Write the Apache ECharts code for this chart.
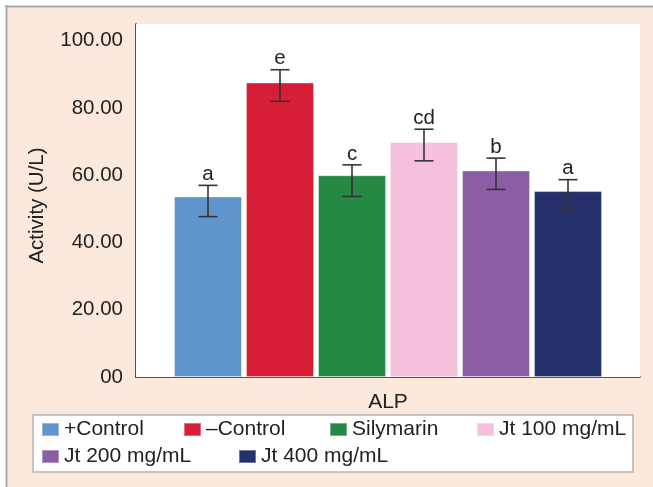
<!DOCTYPE html>
<html>
<head>
<meta charset="utf-8">
<script src="https://cdn.jsdelivr.net/npm/echarts@6/dist/echarts.min.js"></script>
<style>
html,body{margin:0;padding:0;background:#fff;}
#c{width:653px;height:487px;}
</style>
</head>
<body>
<div id="c"></div>
<script>
const categories = ['ALP'];
const groups = ['+Control', '–Control', 'Silymarin', 'Jt 100 mg/mL', 'Jt 200 mg/mL', 'Jt 400 mg/mL'];
const means = [53.7, 87.6, 60.0, 69.9, 61.4, 55.3];
const errLow = [47.7, 82.0, 53.7, 64.3, 55.8, 49.4];
const errHigh = [57.0, 91.4, 63.1, 73.7, 65.1, 58.7];
const letters = ['a', 'e', 'c', 'cd', 'b', 'a'];
const yTicks = [0, 20, 40, 60, 80, 100];
const colors = ['#5f94cd', '#d81e36', '#258843', '#f5c0d9', '#8a5da5', '#25306a'];

const FONT = "'Liberation Sans', Arial, sans-serif";
const BAR_W = 68, BAR_GAP = 4;

const chart = echarts.init(document.getElementById('c'), null, {renderer: 'canvas'});

const barSeries = groups.map((g, i) => ({
  name: g,
  type: 'bar',
  data: [means[i]],
  barWidth: BAR_W,
  barGap: (BAR_GAP / BAR_W * 100).toFixed(2) + '%',
  itemStyle: {color: colors[i], borderColor: 'rgba(255,255,255,0.35)', borderWidth: 1},
  emphasis: {disabled: true}
}));

const errData = groups.map((g, i) => [0, errLow[i], errHigh[i], i]);

const errSeries = {
  type: 'custom',
  z: 5,
  silent: true,
  data: errData,
  encode: {x: 0, y: [1, 2]},
  renderItem: function (params, api) {
    const i = api.value(3);
    const base = api.coord([api.value(0), 0]);
    const x = base[0] + (i - 2.5) * (BAR_W + BAR_GAP);
    const yTop = api.coord([api.value(0), api.value(2)])[1];
    const yBot = api.coord([api.value(0), api.value(1)])[1];
    const half = 9.5;
    const st = {stroke: '#333', lineWidth: 1.6};
    return {
      type: 'group',
      children: [
        {type: 'line', shape: {x1: x, y1: yTop, x2: x, y2: yBot}, style: st},
        {type: 'line', shape: {x1: x - half, y1: yTop, x2: x + half, y2: yTop}, style: st},
        {type: 'line', shape: {x1: x - half, y1: yBot, x2: x + half, y2: yBot}, style: st},
        {type: 'text', style: {text: letters[params.dataIndex], x: x, y: yTop - 11,
          textAlign: 'center', textVerticalAlign: 'middle', fill: '#222', font: '20.5px ' + FONT}}
      ]
    };
  }
};

const legendPos = [
  [41, 419], [183, 419], [329, 419], [476, 419],
  [41, 446], [238, 446]
];
const legends = groups.map((g, i) => ({
  data: [g],
  left: legendPos[i][0],
  top: legendPos[i][1],
  padding: 0,
  icon: 'rect',
  itemWidth: 17,
  itemHeight: 13,
  selectedMode: false,
  textStyle: {fontSize: 21, color: '#222', fontFamily: FONT, padding: [0, 0, 0, 0]}
}));

const option = {
  backgroundColor: '#fff',
  animation: false,
  textStyle: {fontFamily: FONT},
  graphic: [
    {type: 'rect', z: -10, shape: {x: 7, y: 7, width: 646, height: 480}, style: {fill: '#fde8dc'}},
    {type: 'line', z: -9, shape: {x1: 5, y1: 6.5, x2: 653, y2: 6.5}, style: {stroke: '#a9a9a9', lineWidth: 2}},
    {type: 'line', z: -9, shape: {x1: 6.5, y1: 5, x2: 6.5, y2: 487}, style: {stroke: '#a9a9a9', lineWidth: 2}},
    {type: 'rect', z: 0, shape: {x: 33, y: 415, width: 600, height: 57}, style: {fill: '#fff', stroke: '#b4b4b4', lineWidth: 1.5}}
  ],
  legend: legends,
  grid: {left: 136, right: 13, top: 24, bottom: 110, show: true, backgroundColor: '#fff', borderWidth: 0, z: 1},
  xAxis: {
    type: 'category',
    data: categories,
    name: 'ALP',
    nameLocation: 'middle',
    nameGap: 15,
    nameTextStyle: {fontSize: 21, color: '#222', fontFamily: FONT},
    axisLine: {lineStyle: {color: '#222', width: 1.5}},
    axisTick: {show: false},
    axisLabel: {show: false}
  },
  yAxis: {
    type: 'value',
    min: 0,
    max: 105,
    interval: 20,
    name: 'Activity (U/L)',
    nameLocation: 'middle',
    nameGap: 88,
    nameTextStyle: {fontSize: 20.5, color: '#222', fontFamily: FONT, padding: [0, 10, 0, 0]},
    axisLine: {show: true, lineStyle: {color: '#222', width: 1.5}},
    axisTick: {show: false},
    splitLine: {show: false},
    axisLabel: {
      fontSize: 20.5, color: '#222', fontFamily: FONT, margin: 13,
      showMaxLabel: false,
      formatter: function (v) {
        if (yTicks.indexOf(v) < 0) return '';
        return v === 0 ? '00' : v.toFixed(2);
      }
    }
  },
  series: barSeries.concat([errSeries])
};

chart.setOption(option);
</script>
</body>
</html>
